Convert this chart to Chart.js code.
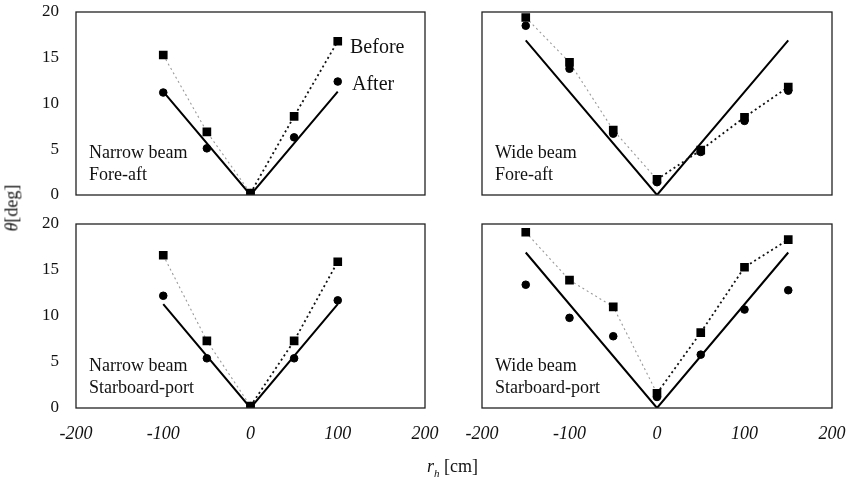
<!DOCTYPE html>
<html>
<head>
<meta charset="utf-8">
<script src="https://cdn.jsdelivr.net/npm/chart.js@4.4.1/dist/chart.umd.min.js"></script>
<style>
body { margin: 0; background: #fff; }
#wrap { position: relative; width: 849px; height: 479px; font-family: 'Liberation Serif', 'Times New Roman', serif; color: #111; }
canvas { position: absolute; }
.lbl { position: absolute; font-size: 18px; white-space: nowrap; line-height: 1; }
</style>
</head>
<body>
<div id="wrap">
  <canvas id="c1" style="left:0;top:0" width="440" height="210"></canvas>
  <canvas id="c2" style="left:440px;top:0" width="409" height="210"></canvas>
  <canvas id="c3" style="left:0;top:210px" width="440" height="269"></canvas>
  <canvas id="c4" style="left:440px;top:210px" width="409" height="269"></canvas>
  <div class="lbl" style="left:-12px;top:199px;transform:rotate(-90deg)"><i>&theta;</i>[deg]</div>
  <div class="lbl" style="left:427px;top:457px"><i>r<sub style="font-size:11px">h</sub></i> [cm]</div>
</div>
<script>
'use strict';
// x positions (cm)
var xNarrow = [-100, -50, 0, 50, 100];
var xWide = [-150, -100, -50, 0, 50, 100, 150];

// narrow beam, fore-aft
var narrowForeBefore = [15.3, 6.9, 0.2, 8.6, 16.8];
var narrowForeAfter = [11.2, 5.1, 0.2, 6.3, 12.4];
// wide beam, fore-aft
var wideForeBefore = [19.4, 14.5, 7.1, 1.7, 4.9, 8.5, 11.8];
var wideForeAfter = [18.5, 13.8, 6.7, 1.4, 4.7, 8.1, 11.4];
// narrow beam, starboard-port
var narrowPortBefore = [16.6, 7.3, 0.2, 7.3, 15.9];
var narrowPortAfter = [12.2, 5.4, 0.2, 5.4, 11.7];
// wide beam, starboard-port
var widePortBefore = [19.1, 13.9, 11.0, 1.6, 8.2, 15.3, 18.3];
var widePortAfter = [13.4, 9.8, 7.8, 1.2, 5.8, 10.7, 12.8];

// theoretical V lines
var theoryNarrowX = [-100, 0, 100];
var theoryNarrowY = [11.3, 0, 11.3];
var theoryWideX = [-150, 0, 150];
var theoryWideY = [16.9, 0, 16.9];

var xTicks = [-200, -100, 0, 100, 200];
var yTicks = [0, 5, 10, 15, 20];

var serif = "'Liberation Serif', 'Times New Roman', serif";

var toPoints = function(xs, ys) {
    return xs.map(function(x, i) { return {x: x, y: ys[i]}; });
};

// frame around each panel + text inside it
var panelPlugin = {
    id: 'panelPlugin',
    afterDatasetsDraw: function(chart, args, opts) {
        var ctx = chart.ctx;
        var a = chart.chartArea;
        ctx.save();
        ctx.strokeStyle = '#222';
        ctx.lineWidth = 1.3;
        ctx.strokeRect(a.left, a.top, a.right - a.left, a.bottom - a.top);
        ctx.fillStyle = '#111';
        ctx.textBaseline = 'middle';
        ctx.font = '18px ' + serif;
        (opts.lines || []).forEach(function(t, i) {
            ctx.fillText(t, a.left + 13, a.bottom - 42 + i * 22);
        });
        if (opts.legend) {
            ctx.font = '20px ' + serif;
            ctx.fillText('Before', a.left + 274, a.top + 36);
            ctx.fillText('After', a.left + 276, a.top + 73);
        }
        ctx.restore();
    }
};

var buildPanel = function(id, xs, before, after, thX, thY, cfg) {
    var ctx = document.getElementById(id);
    return new Chart(ctx, {
        type: 'scatter',
        data: {
            datasets: [{
                label: 'Theory',
                data: toPoints(thX, thY),
                showLine: true,
                borderColor: '#000',
                borderWidth: 2,
                pointRadius: 0,
                order: 3
            }, {
                label: 'Before',
                data: toPoints(xs, before),
                showLine: true,
                borderColor: '#000',
                borderWidth: 1.6,
                borderDash: [2, 3],
                segment: {
                    borderColor: function(c) { return c.p0.parsed.x < 0 ? '#9a9a9a' : '#111'; },
                    borderWidth: function(c) { return c.p0.parsed.x < 0 ? 1.1 : 1.8; }
                },
                pointStyle: 'rect',
                pointRadius: 5,
                backgroundColor: '#000',
                pointBorderColor: '#000',
                order: 2
            }, {
                label: 'After',
                data: toPoints(xs, after),
                showLine: false,
                pointStyle: 'circle',
                pointRadius: 3.8,
                backgroundColor: '#000',
                pointBorderColor: '#000',
                order: 1
            }]
        },
        options: {
            responsive: false,
            animation: false,
            layout: { padding: cfg.padding },
            plugins: {
                legend: { display: false },
                tooltip: { enabled: false },
                panelPlugin: { lines: cfg.lines, legend: cfg.legend }
            },
            scales: {
                x: {
                    type: 'linear',
                    display: cfg.showX,
                    min: xTicks[0],
                    max: xTicks[xTicks.length - 1],
                    afterBuildTicks: function(s) { s.ticks = xTicks.map(function(v) { return {value: v}; }); },
                    grid: { display: false, drawTicks: false },
                    border: { display: false },
                    ticks: { padding: 15, color: '#111', font: { family: serif, size: 18, style: 'italic' } },
                    afterFit: function(s) {
                        s.height = cfg.showX ? 40 : 0;
                        s.paddingLeft = 0;
                        s.paddingRight = 0;
                    }
                },
                y: {
                    display: cfg.showY,
                    min: yTicks[0],
                    max: yTicks[yTicks.length - 1],
                    afterBuildTicks: function(s) { s.ticks = yTicks.map(function(v) { return {value: v}; }); },
                    grid: { display: false, drawTicks: false },
                    border: { display: false },
                    ticks: { padding: 17, color: '#111', font: { family: serif, size: 17 } },
                    afterFit: function(s) {
                        s.width = cfg.showY ? 76 : 0;
                        s.paddingTop = 0;
                        s.paddingBottom = 0;
                    }
                }
            }
        },
        plugins: [panelPlugin]
    });
};

buildPanel('c1', xNarrow, narrowForeBefore, narrowForeAfter, theoryNarrowX, theoryNarrowY, {
    showX: false, showY: true, legend: true,
    padding: { top: 12, right: 15, bottom: 15, left: 0 },
    lines: ['Narrow beam', 'Fore-aft']
});
buildPanel('c2', xWide, wideForeBefore, wideForeAfter, theoryWideX, theoryWideY, {
    showX: false, showY: false, legend: false,
    padding: { top: 12, right: 17, bottom: 15, left: 42 },
    lines: ['Wide beam', 'Fore-aft']
});
buildPanel('c3', xNarrow, narrowPortBefore, narrowPortAfter, theoryNarrowX, theoryNarrowY, {
    showX: true, showY: true, legend: false,
    padding: { top: 14, right: 15, bottom: 31, left: 0 },
    lines: ['Narrow beam', 'Starboard-port']
});
buildPanel('c4', xWide, widePortBefore, widePortAfter, theoryWideX, theoryWideY, {
    showX: true, showY: false, legend: false,
    padding: { top: 14, right: 17, bottom: 31, left: 42 },
    lines: ['Wide beam', 'Starboard-port']
});
</script>
</body>
</html>
